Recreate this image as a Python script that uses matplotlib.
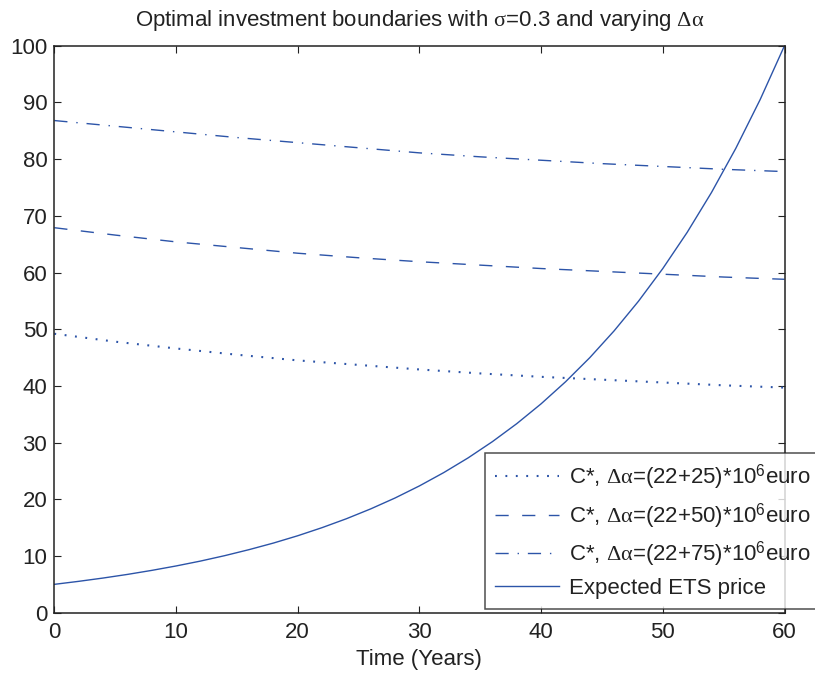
import matplotlib
matplotlib.use("Agg")
import matplotlib.pyplot as plt

plt.rcParams["font.family"] = ["Liberation Sans", "DejaVu Sans"]
plt.rcParams["mathtext.fontset"] = "custom"
plt.rcParams["mathtext.rm"] = "Liberation Serif"
plt.rcParams["mathtext.it"] = "Liberation Serif:italic"
plt.rcParams["mathtext.sf"] = "Liberation Sans"

# Time grid (years) and curves
years_b = [0, 5, 10, 15, 20, 25, 30, 35, 40, 45, 50, 55, 60]
c_star_25 = [49.2, 47.8, 46.6, 45.5, 44.5, 43.7, 42.9, 42.2, 41.6, 41.1, 40.6, 40.1, 39.7]
c_star_50 = [67.9, 66.6, 65.4, 64.4, 63.4, 62.6, 61.9, 61.3, 60.7, 60.2, 59.7, 59.2, 58.8]
c_star_75 = [86.8, 85.8, 84.8, 83.8, 82.9, 82.0, 81.1, 80.4, 79.8, 79.2, 78.7, 78.2, 77.8]

years_p = [0, 2, 4, 6, 8, 10, 12, 14, 16, 18, 20, 22, 24, 26, 28, 30,
           32, 34, 36, 38, 40, 42, 44, 46, 48, 50, 52, 54, 56, 58, 60]
ets_price = [5.00, 5.53, 6.11, 6.75, 7.46, 8.24, 9.10, 10.06, 11.12, 12.28,
             13.57, 15.00, 16.57, 18.31, 20.23, 22.36, 24.71, 27.30, 30.17,
             33.34, 36.84, 40.71, 44.98, 49.71, 54.93, 60.70, 67.07, 74.11,
             81.90, 90.50, 100.0]

labels = [
    r"C*, $\mathrm{\Delta\alpha}$=(22+25)*10$^{\mathsf{6}}$euro",
    r"C*, $\mathrm{\Delta\alpha}$=(22+50)*10$^{\mathsf{6}}$euro",
    r"C*, $\mathrm{\Delta\alpha}$=(22+75)*10$^{\mathsf{6}}$euro",
    "Expected ETS price",
]
title = r"Optimal investment boundaries with $\mathrm{\sigma}$=0.3 and varying $\mathrm{\Delta\alpha}$"

line_color = "#2c54a8"
text_color = "#222222"
fs = 16

fig = plt.figure(figsize=(8.15, 6.75), dpi=100)
ax = fig.add_axes([54.3 / 815, 1 - 612.7 / 675, 730.2 / 815, 567.0 / 675])

l1, = ax.plot(years_b, c_star_25, color=line_color, lw=1.5, dashes=(0.9, 4.1))
l2, = ax.plot(years_b, c_star_50, color=line_color, lw=1.0, dashes=(9.5, 9.7))
l3, = ax.plot(years_b, c_star_75, color=line_color, lw=1.0, dashes=(9.5, 6.4, 1.0, 6.4))
l4, = ax.plot(years_p, ets_price, color=line_color, lw=1.0)

ax.set_xlim(0, 60)
ax.set_ylim(0, 100)
ax.set_xticks(range(0, 61, 10))
ax.set_yticks(range(0, 101, 10))
ax.tick_params(direction="in", length=5, width=0.8, top=True, right=True,
               labelsize=fs, labelcolor=text_color, color=text_color)
ax.tick_params(axis="x", pad=7)
ax.tick_params(axis="y", pad=5)
for s in ax.spines.values():
    s.set_linewidth(1.1)
    s.set_color(text_color)

ax.set_title(title, fontsize=fs, color=text_color, pad=14)
ax.set_xlabel("Time (Years)", fontsize=fs, color=text_color, labelpad=4)

leg = ax.legend([l1, l2, l3, l4], labels, loc="upper left",
                bbox_to_anchor=(485 / 815, 1 - 453 / 675),
                bbox_transform=fig.transFigure, borderaxespad=0,
                fontsize=fs, fancybox=False, frameon=True,
                handlelength=2.9, handletextpad=0.45, borderpad=0.45,
                labelspacing=0.4)
leg.get_frame().set_edgecolor(text_color)
leg.get_frame().set_linewidth(1.1)
for t in leg.get_texts():
    t.set_color(text_color)

fig.savefig("out.png", dpi=100)
